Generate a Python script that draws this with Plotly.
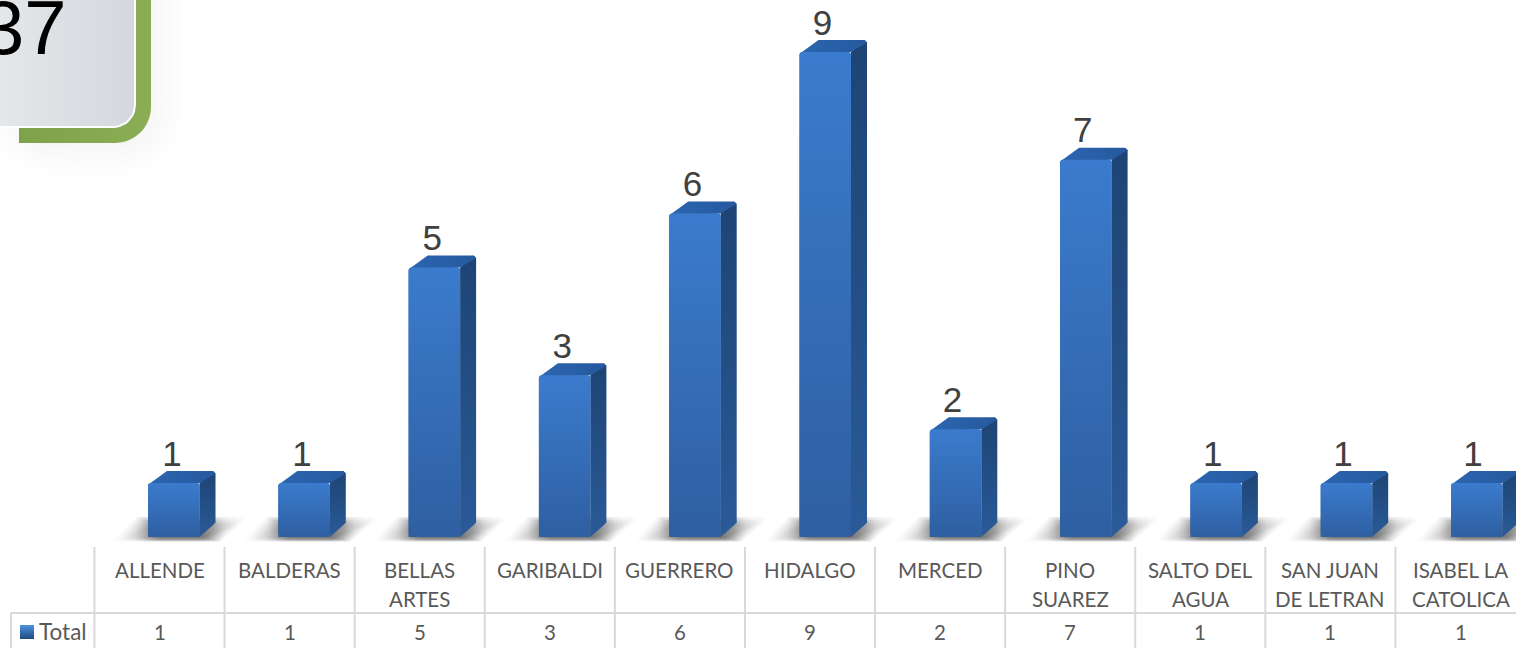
import math
import plotly.graph_objects as go

# ---- data ----
categories = ["ALLENDE", "BALDERAS", "BELLAS<br>ARTES", "GARIBALDI", "GUERRERO", "HIDALGO",
              "MERCED", "PINO<br>SUAREZ", "SALTO DEL<br>AGUA", "SAN JUAN<br>DE LETRAN", "ISABEL LA<br>CATOLICA"]
values = [1, 1, 5, 3, 6, 9, 2, 7, 1, 1, 1]
series_name = "Total"
card_text = "37"

# ---- page geometry (pixels of the 1516x648 page) ----
W, H = 1516, 648
COL0, COLW = 159.5, 130.1      # centre of first table column, column width
Y0, UNIT = 537.0, 53.9         # pixel row of value 0, pixels per unit
BAR_STEP = 130.3               # bars run on a very slightly wider pitch than the table
BAR_LEFT0, BAR_W = 148.0, 51.5
DEPTH_X, DEPTH_Y = 16, 12

xmin, xmax = -COL0 / COLW, (W - COL0) / COLW
ymin, ymax = -(H - Y0) / UNIT, Y0 / UNIT
dx = lambda px: px / COLW
dy = lambda px: px / UNIT
X = lambda px: (px - COL0) / COLW      # absolute pixel to data
Y = lambda py: (Y0 - py) / UNIT
bar_left = lambda i: X(BAR_LEFT0 + BAR_STEP * i)

fig = go.Figure()

# real bars
bw = dx(BAR_W)
fig.add_trace(go.Bar(x=[bar_left(i) + bw / 2 for i in range(len(values))], y=values, width=bw,
                     marker=dict(color="#2f69b6", line=dict(width=0), cornerradius=3),
                     name=series_name, showlegend=False))


def poly(xs, ys, colors, kind, line=None, lw=1.5):
    stops = [[k / (len(colors) - 1), c] for k, c in enumerate(colors)]
    fig.add_trace(go.Scatter(x=xs, y=ys, mode="lines", fill="toself", hoverinfo="skip", showlegend=False,
                             line=dict(color=line or "rgba(0,0,0,0)", width=lw if line else 0),
                             fillgradient=dict(type=kind, colorscale=stops)))


def rounded(x0, y0, x1, y1, r, corners=(1, 1, 1, 1), n=10):
    """Pixel rounded rectangle outline -> data coordinates. corners = tl,tr,br,bl"""
    pts = []
    spec = [(x1 - r, y0 + r, -90, corners[1]), (x1 - r, y1 - r, 0, corners[2]),
            (x0 + r, y1 - r, 90, corners[3]), (x0 + r, y0 + r, 180, corners[0])]
    for cxp, cyp, a, on in spec:
        if on:
            for k in range(n + 1):
                t = math.radians(a + 90 * k / n)
                pts.append((cxp + r * math.cos(t), cyp + r * math.sin(t)))
        else:
            t = math.radians(a + 45)
            pts.append((cxp + r * math.sqrt(2) * math.cos(t), cyp + r * math.sqrt(2) * math.sin(t)))
    pts.append(pts[0])
    return [X(p[0]) for p in pts], [Y(p[1]) for p in pts]


# card in the upper-left corner: soft shadow, green back, grey face
for grow in (32, 28, 24, 20, 16, 12, 8, 4):
    xs, ys = rounded(19 - grow, -60, 151 + grow, 143 + grow, 34 + grow)
    fig.add_trace(go.Scatter(x=xs, y=ys, mode="lines", fill="toself", fillcolor="rgba(130,145,170,0.012)",
                             showlegend=False, hoverinfo="skip", line=dict(width=0)))
xs, ys = rounded(19, -60, 151, 143, 36, corners=(0, 1, 1, 0))
poly(xs, ys, ["#7ea24a", "#8bae55"], "horizontal")
xs, ys = rounded(-60, -60, 135, 127, 22, corners=(1, 1, 1, 1))
poly(xs, ys, ["#eceef0", "#d4d7dc"], "horizontal", line="#ffffff", lw=2)

# floor shadows: stacked translucent layers give a soft edge
for i in range(len(values)):
    c = BAR_LEFT0 + BAR_STEP * i + 11.5
    for inset in (0, 1.5, 3, 4.5, 6, 7.5):
        top, bot = 517 + inset, 541.5 - inset * 0.5
        poly([X(c - 48 + inset * 2), X(c - 22 + inset * 2), X(c + 90 - inset * 2), X(c + 60 - inset * 2),
              X(c - 48 + inset * 2)],
             [Y(bot), Y(top), Y(top), Y(bot), Y(bot)],
             ["rgba(90,90,90,0)", "rgba(90,90,90,0.06)", "rgba(90,90,90,0.24)", "rgba(90,90,90,0.25)",
              "rgba(90,90,90,0.24)", "rgba(90,90,90,0.06)", "rgba(90,90,90,0)"], "horizontal")

# 3-D faces
ch_x, ch_y = dx(2.5), dy(2.5)
for i, v in enumerate(values):
    xl = bar_left(i)
    xr = xl + bw
    xb, yb = dx(DEPTH_X), dy(DEPTH_Y)
    # side
    poly([xr, xr + xb - ch_x, xr + xb, xr + xb, xr + xb - ch_x, xr, xr],
         [v, v + yb, v + yb - ch_y, yb + ch_y, yb, 0, v],
         ["#2a5a98", "#1d4474"], "vertical")
    # top
    poly([xl, xl + ch_x, xl + dx(19), xr + xb - ch_x, xr + xb, xr, xl],
         [v - ch_y, v, v + yb, v + yb, v + yb - ch_y, v, v - ch_y],
         ["#2b66b0", "#26599e"], "horizontal")
    # front
    poly([xl + ch_x, xr - ch_x, xr, xr, xr - ch_x, xl + ch_x, xl, xl, xl + ch_x],
         [0, 0, ch_y, v - ch_y, v, v, v - ch_y, ch_y, 0],
         ["#2e5fa1", "#3b7bcd"], "vertical")

# value labels
fig.add_trace(go.Scatter(x=[i + dx(12.5) for i in range(len(values))],
                         y=[v + dy(26) for v in values],
                         text=[str(v) for v in values], mode="text", textposition="middle center",
                         textfont=dict(family="Liberation Sans", size=35, color="#404040"),
                         hoverinfo="skip", showlegend=False))

# data table
LINE = "#d9d9d9"
TOP, MID, BOT = 547, 613, 648
shapes = []
for i in range(len(values) + 1):
    xv = i - 0.5
    shapes.append(dict(type="line", xref="x", yref="y", x0=xv, x1=xv, y0=Y(TOP), y1=Y(BOT),
                       line=dict(color=LINE, width=2)))
shapes.append(dict(type="line", xref="x", yref="y", x0=X(11), x1=xmax, y0=Y(MID), y1=Y(MID),
                   line=dict(color=LINE, width=2)))
shapes.append(dict(type="line", xref="x", yref="y", x0=X(11), x1=X(11), y0=Y(MID), y1=Y(BOT),
                   line=dict(color=LINE, width=2)))

ann = []
FONT = dict(family="Lato", size=20.5, color="#595959")
for i, (c, v) in enumerate(zip(categories, values)):
    for k, part in enumerate(c.split("<br>")):
        ann.append(dict(x=i, y=Y(570 + 29 * k), xref="x", yref="y", text=part, showarrow=False, font=FONT))
    ann.append(dict(x=i, y=Y(632), xref="x", yref="y", text=str(v), showarrow=False, font=FONT))
ann.append(dict(x=X(37), y=Y(631), xref="x", yref="y", text=series_name, showarrow=False, xanchor="left",
                font=dict(family="Lato", size=22.5, color="#595959")))
ann.append(dict(x=X(69), y=Y(27), xref="x", yref="y", text=card_text, showarrow=False, xanchor="right",
                font=dict(family="Liberation Sans", size=76, color="#000000")))

# legend key
poly([X(20), X(34), X(34), X(20), X(20)], [Y(625), Y(625), Y(639), Y(639), Y(625)],
     ["#1f4a80", "#4f93dd"], "vertical")

fig.update_layout(width=W, height=H, margin=dict(l=0, r=0, t=0, b=0), autosize=False,
                  paper_bgcolor="white", plot_bgcolor="white", showlegend=False,
                  shapes=shapes, annotations=ann,
                  xaxis=dict(range=[xmin, xmax], visible=False, fixedrange=True),
                  yaxis=dict(range=[ymin, ymax], visible=False, fixedrange=True))
fig.write_html("out.html", config=dict(displayModeBar=False),
               post_script="document.body.style.margin='0';document.documentElement.style.overflow='hidden';")
